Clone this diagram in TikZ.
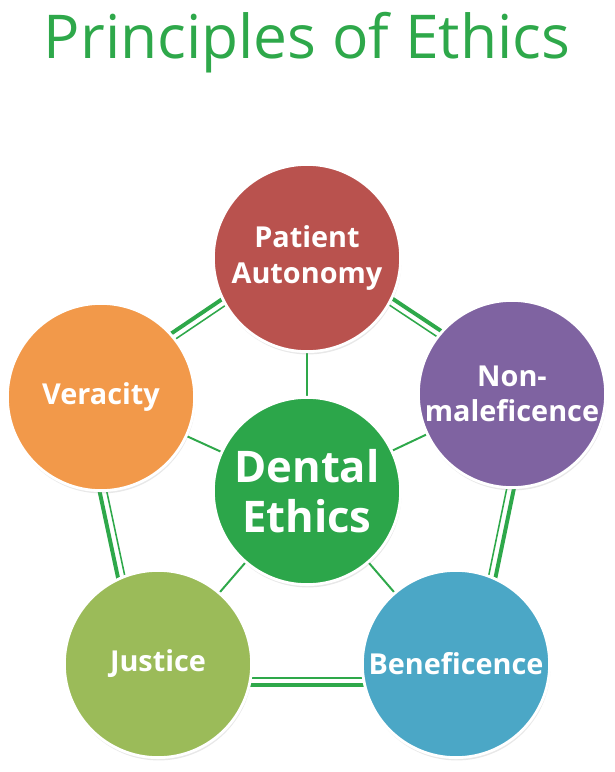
\documentclass[tikz,border=0pt]{standalone}
\usepackage{fontspec}
\setmainfont{Open Sans}
\usetikzlibrary{calc,backgrounds,shadows}

\definecolor{ethgreen}{HTML}{2EA84A}
\definecolor{centergreen}{HTML}{2CA64A}
\definecolor{autored}{HTML}{B9524E}
\definecolor{nonpurple}{HTML}{7F63A1}
\definecolor{beneblue}{HTML}{4BA7C6}
\definecolor{justgreen}{HTML}{9BBB59}
\definecolor{veraorange}{HTML}{F2994A}

\tikzset{
  principle/.style={circle, draw=white, line width=2pt, minimum size=4.68cm,
    inner sep=0pt, align=center, text=white,
    font=\bfseries\fontsize{20.5}{25}\selectfont,
    drop shadow={opacity=0.18, shadow xshift=0.6pt, shadow yshift=-2pt}},
  heading/.style={anchor=base, text=ethgreen, font=\fontsize{43}{48}\selectfont},
  spoke/.style={ethgreen, line width=1.4pt},
  rimthick/.style={ethgreen, line width=2.8pt},
  rimthin/.style={ethgreen, line width=1.1pt}
}

\begin{document}
\begin{tikzpicture}[x=0.025cm, y=-0.025cm]
    \useasboundingbox (0,0) rectangle (615,772);

    % タイトル
    \node[heading] (title) at (307,58) {Principles of Ethics};

    % 中央と五つの原則
    \node[principle, fill=centergreen, font=\bfseries\fontsize{31}{36}\selectfont] (de) at (307,491) {Dental\\Ethics};
    \node[principle, fill=autored] (pa) at (307,258) {Patient\\Autonomy};
    \node[principle, fill=nonpurple] (nm) at (512,394) {Non-\\maleficence};
    \node[principle, fill=beneblue] (be) at (456,664) {Beneficence};
    \node[principle, fill=justgreen] (ju) at (158,664) {Justice};
    \node[principle, fill=veraorange] (ve) at (101,397) {Veracity};

    % 放射線と外周の二重線
    \begin{scope}[on background layer]
      \foreach \p in {pa, nm, be, ju, ve}
        \draw[spoke] (de.center) -- (\p.center);
      \foreach \a/\b/\o/\i in {pa/nm/9.5pt/4.5pt, nm/be/15pt/10pt, be/ju/15pt/10pt,
                               ju/ve/15pt/10pt, ve/pa/9.5pt/4.5pt} {
        \draw[rimthick] ($(\a.center)!\o!90:(\b.center)$) -- ($(\b.center)!\o!-90:(\a.center)$);
        \draw[rimthin] ($(\a.center)!\i!90:(\b.center)$) -- ($(\b.center)!\i!-90:(\a.center)$);
      }
    \end{scope}
\end{tikzpicture}
\end{document}
